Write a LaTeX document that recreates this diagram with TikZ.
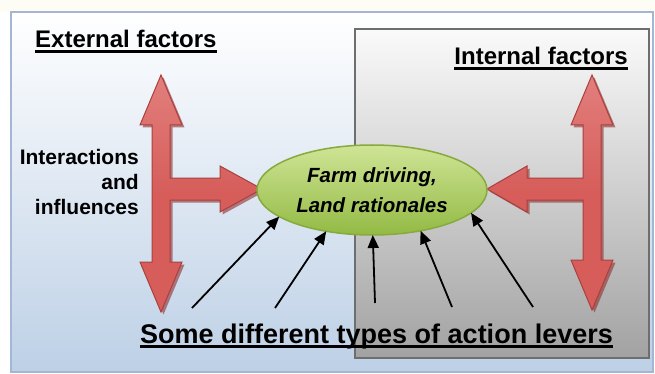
\documentclass[tikz,border=0pt]{standalone}
\usepackage{fontspec}
\setmainfont{Liberation Sans}
\usetikzlibrary{shapes.geometric,arrows.meta}

\definecolor{stripcol}{HTML}{FDFDF6}
\definecolor{panelbot}{HTML}{BDD0E6}
\definecolor{frameblue}{HTML}{A3B7D5}
\definecolor{greytop}{HTML}{FAFAFA}
\definecolor{greybot}{HTML}{A2A2A2}
\definecolor{greyedge}{HTML}{6E6E6E}
\definecolor{redfill}{HTML}{D65D5A}
\definecolor{redtop}{HTML}{E27F7D}
\definecolor{rededge}{HTML}{A9403E}
\definecolor{redshadow}{HTML}{8E2F2D}
\definecolor{hubtop}{HTML}{CFE496}
\definecolor{hubbot}{HTML}{93BA44}
\definecolor{hubedge}{HTML}{86AA3C}

% thick underline drawn just below the baseline
\newcommand\undl[1]{\setbox0=\hbox{#1}\rlap{\vrule height -2.4pt depth 4.6pt width \wd0}\box0}

\tikzset{
  redarrow/.style={top color=redtop, bottom color=redfill, middle color=redfill, draw=rededge, line width=1pt, line join=miter},
  redshade/.style={fill=redshadow, opacity=0.6},
  hubnode/.style={ellipse, minimum width=230, minimum height=90, inner sep=0pt, outer sep=0pt,
    top color=hubtop, bottom color=hubbot, draw=hubedge, line width=1.5pt,
    align=center, font=\bfseries\itshape\fontsize{20.5}{30}\selectfont},
  lever/.style={line width=1.8pt, -{Triangle[length=13pt,width=11pt]}},
  heading/.style={font=\bfseries\fontsize{24}{28}\selectfont, inner sep=0pt},
}

\begin{document}
\begin{tikzpicture}[x=1pt,y=-1pt]
\useasboundingbox (0,0) rectangle (655,374);

% outer panel
\fill[stripcol] (0,0) rectangle (655,12);
\shade[top color=white, bottom color=panelbot] (11,12) rectangle (653,372);
\draw[frameblue, line width=1.5pt] (11,12) rectangle (653,372);

% internal factors panel
\node[anchor=north west, minimum width=294, minimum height=329, inner sep=0pt,
      top color=greytop, bottom color=greybot, draw=greyedge, line width=1.6pt] (inner) at (354,28) {};

% left double arrow with branch to the hub
\fill[redshade, shift={(2.5,2.5)}] (161,75) -- (182,125) -- (170,125) -- (170,178) -- (220,178) -- (220,166)
  -- (262,189) -- (220,212) -- (220,200) -- (170,200) -- (170,262) -- (182,262) -- (161,312)
  -- (140,262) -- (152,262) -- (152,125) -- (140,125) -- cycle;
\path[redarrow] (161,75) -- (182,125) -- (170,125) -- (170,178) -- (220,178) -- (220,166)
  -- (262,189) -- (220,212) -- (220,200) -- (170,200) -- (170,262) -- (182,262) -- (161,312)
  -- (140,262) -- (152,262) -- (152,125) -- (140,125) -- cycle;

% right double arrow with branch to the hub
\fill[redshade, shift={(2.5,2.5)}] (592,75) -- (613,125) -- (601,125) -- (601,260) -- (613,260) -- (592,310)
  -- (571,260) -- (583,260) -- (583,200) -- (527,200) -- (527,212) -- (487,189) -- (527,166)
  -- (527,178) -- (583,178) -- (583,125) -- (571,125) -- cycle;
\path[redarrow] (592,75) -- (613,125) -- (601,125) -- (601,260) -- (613,260) -- (592,310)
  -- (571,260) -- (583,260) -- (583,200) -- (527,200) -- (527,212) -- (487,189) -- (527,166)
  -- (527,178) -- (583,178) -- (583,125) -- (571,125) -- cycle;

% central hub
\node[hubnode] (hub) at (372,190) {Farm driving,\\Land rationales};

% action levers
\coordinate (s1) at (192,308);
\coordinate (s2) at (275,308);
\coordinate (s3) at (375,303);
\coordinate (s4) at (452,307);
\coordinate (s5) at (533,307);
\draw[lever] (s1) -- (hub.196.7);
\draw[lever] (s2) -- (hub.222);
\draw[lever] (s3) -- (hub.271);
\draw[lever] (s4) -- (hub.320);
\draw[lever] (s5) -- (hub.347.6);

% texts
\node[heading, anchor=base west] (ext) at (35,48) {\undl{External factors}};
\node[heading, anchor=base east] (int) at (628,65) {\undl{Internal factors}};
\node[anchor=east, align=right, inner sep=0pt, font=\bfseries\fontsize{21}{25}\selectfont] (inter) at (139,182) {Interactions\\and\\influences};
\node[anchor=base west, inner sep=0pt, font=\bfseries\fontsize{27}{30}\selectfont] (levers) at (140,343) {\undl{Some different types of action levers}};
\end{tikzpicture}
\end{document}
